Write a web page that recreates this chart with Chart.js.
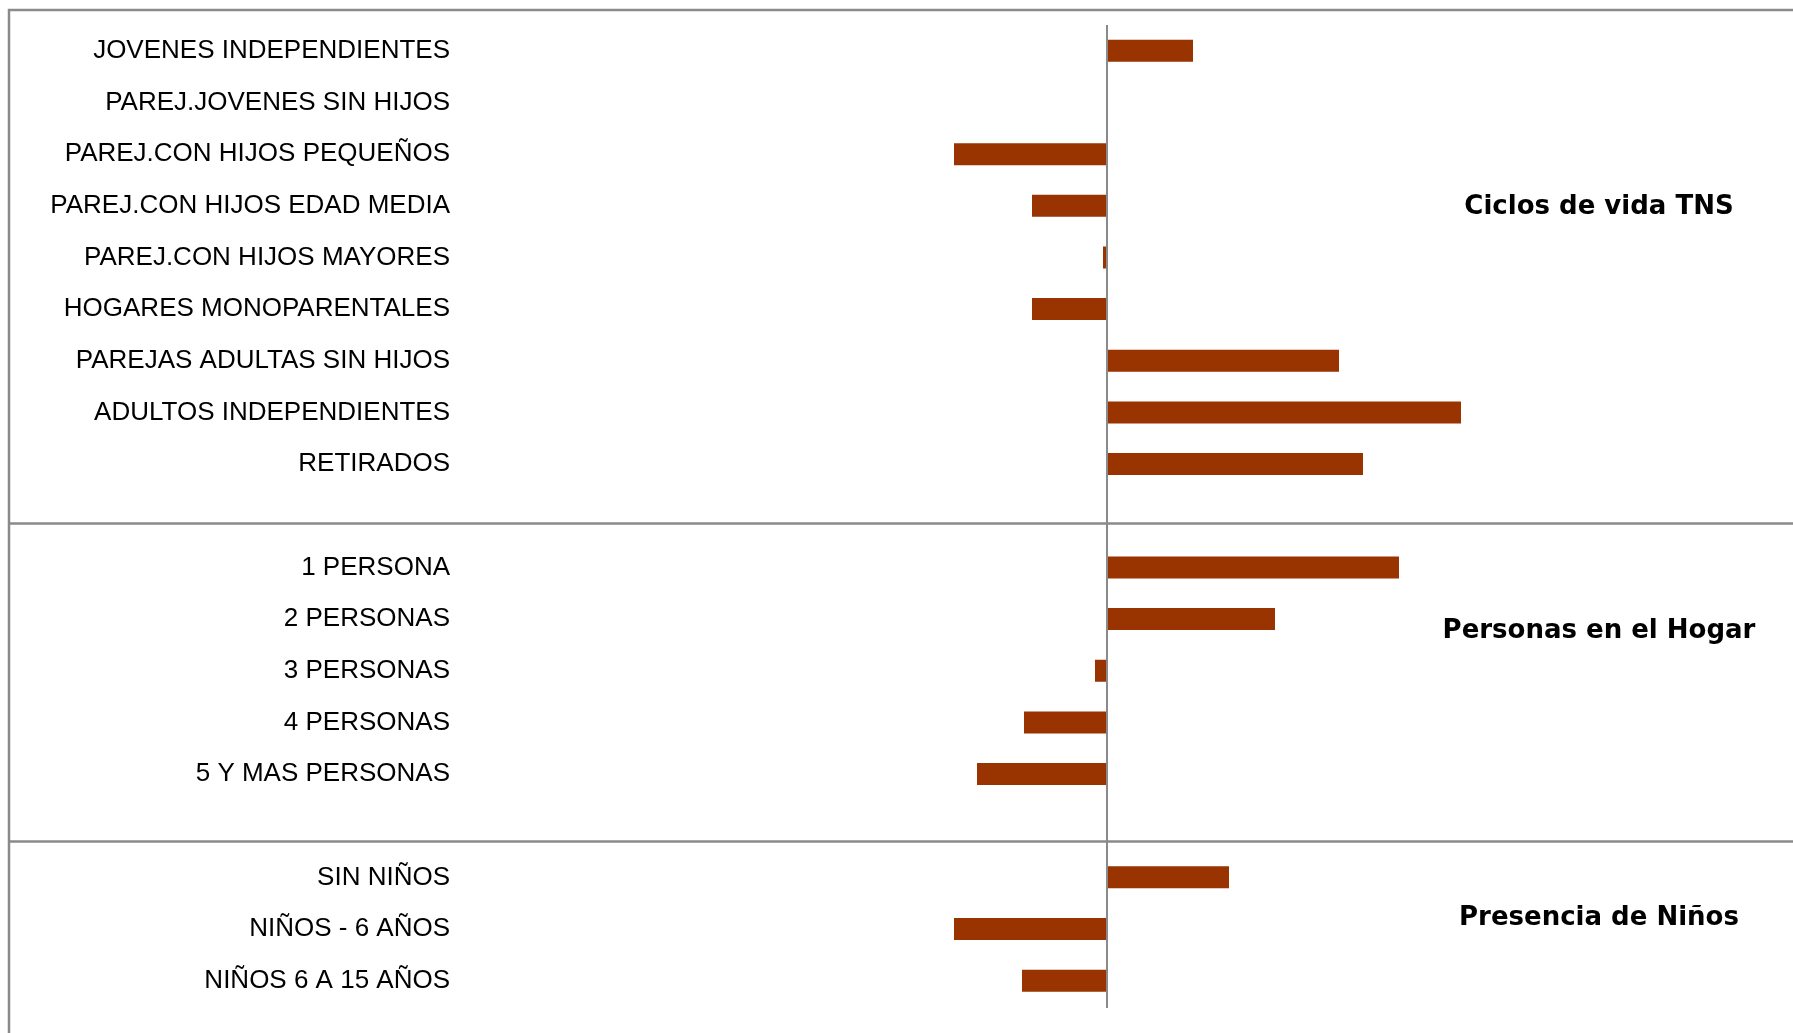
<!DOCTYPE html>
<html>
<head>
<meta charset="utf-8">
<script src="https://cdn.jsdelivr.net/npm/chart.js@4"></script>
<style>
    body { margin: 0; background: #fff; }
    #wrap { width: 1793px; height: 1033px; position: relative; }
</style>
</head>
<body>
<div id="wrap"><canvas id="perfil-chart"></canvas></div>
<script>
// Categorías (filas vacías separan los bloques)
const categories = [
    'JOVENES INDEPENDIENTES',
    'PAREJ.JOVENES SIN HIJOS',
    'PAREJ.CON HIJOS PEQUEÑOS',
    'PAREJ.CON HIJOS EDAD MEDIA',
    'PAREJ.CON HIJOS MAYORES',
    'HOGARES MONOPARENTALES',
    'PAREJAS ADULTAS SIN HIJOS',
    'ADULTOS INDEPENDIENTES',
    'RETIRADOS',
    '',
    '1 PERSONA',
    '2 PERSONAS',
    '3 PERSONAS',
    '4 PERSONAS',
    '5 Y MAS PERSONAS',
    '',
    'SIN NIÑOS',
    'NIÑOS - 6 AÑOS',
    'NIÑOS 6 A 15 AÑOS'
];

// Desviación respecto a la media
const values = [
    8.6, 0, -15.3, -7.5, -0.4, -7.5, 23.2, 35.4, 25.6,
    null,
    29.2, 16.8, -1.2, -8.3, -13.0,
    null,
    12.2, -15.3, -8.5
];

// Títulos de bloque y fila donde se colocan
const groupTitles = ['Ciclos de vida TNS', 'Personas en el Hogar', 'Presencia de Niños'];
const groupTitleRows = [3.02, 11.23, 16.79];

const BAR_COLOR = '#993300';
const LINE_COLOR = '#8a8a8a';

// Marco y líneas separadoras
const framePlugin = {
    id: 'frame',
    beforeDraw(chart) {
        const ctx = chart.ctx;
        const w = chart.width, h = chart.height;
        ctx.save();
        ctx.strokeStyle = LINE_COLOR;
        ctx.lineWidth = 2.5;
        ctx.beginPath();
        ctx.moveTo(9, h);
        ctx.lineTo(9, 10);
        ctx.lineTo(w, 10);
        ctx.moveTo(9, 523.5);
        ctx.lineTo(w, 523.5);
        ctx.moveTo(9, 841.5);
        ctx.lineTo(w, 841.5);
        ctx.stroke();
        ctx.restore();
    },
    afterDatasetsDraw(chart) {
        const ctx = chart.ctx;
        const x0 = chart.scales.x.getPixelForValue(0);
        const area = chart.chartArea;
        ctx.save();
        ctx.strokeStyle = LINE_COLOR;
        ctx.lineWidth = 2;
        ctx.beginPath();
        ctx.moveTo(x0, area.top);
        ctx.lineTo(x0, area.bottom + 1.5);
        ctx.stroke();
        ctx.restore();
    },
    afterDraw(chart) {
        const ctx = chart.ctx;
        const yScale = chart.scales.y;
        ctx.save();
        ctx.fillStyle = '#000';
        ctx.font = 'bold 26px "DejaVu Sans"';
        ctx.textAlign = 'center';
        ctx.textBaseline = 'middle';
        groupTitles.forEach((t, i) => {
            ctx.fillText(t, 1599, yScale.getPixelForValue(groupTitleRows[i]));
        });
        ctx.restore();
    }
};

const ctx = document.getElementById('perfil-chart').getContext('2d');
new Chart(ctx, {
    type: 'bar',
    data: {
        labels: categories,
        datasets: [{
            data: values,
            backgroundColor: BAR_COLOR,
            borderWidth: 0,
            categoryPercentage: 1,
            barPercentage: 0.426
        }]
    },
    options: {
        indexAxis: 'y',
        responsive: true,
        maintainAspectRatio: false,
        animation: false,
        layout: {
            padding: { left: 0, right: 6, top: 25, bottom: 26.5 }
        },
        scales: {
            x: {
                display: false,
                min: -64,
                max: 68
            },
            y: {
                grid: { display: false, drawTicks: false },
                border: { display: false },
                ticks: {
                    color: '#000',
                    padding: 17,
                    autoSkip: false,
                    font: { family: '"Liberation Sans"', size: 26 }
                },
                afterFit(scale) {
                    scale.width = 467;
                    scale.paddingTop = 0;
                    scale.paddingBottom = 0;
                }
            }
        },
        plugins: {
            legend: { display: false },
            tooltip: { enabled: false }
        }
    },
    plugins: [framePlugin]
});
</script>
</body>
</html>
